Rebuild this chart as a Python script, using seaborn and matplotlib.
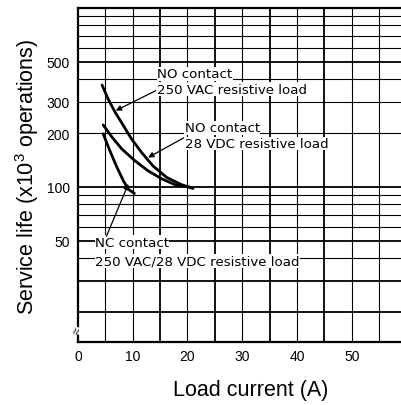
import numpy as np
import pandas as pd
import matplotlib
matplotlib.use("Agg")
import matplotlib.pyplot as plt
import seaborn as sns

# curves (load current A, life x10^3 ops)
no_ac_x = [4.4, 5.5, 6.8, 8.3, 9.8, 11.6, 13.7, 16.2, 18.9, 21.0]
no_ac_y = [371, 310, 261, 220, 185, 156, 131, 113, 103, 98]

no_dc_x = [4.6, 6.2, 8.0, 10.4, 12.8, 15.3, 17.7, 20.4]
no_dc_y = [222, 190, 163, 140, 123, 111, 103, 100]

nc_x = [4.6, 5.8, 7.1, 8.3, 9.2, 10.3]
nc_y = [198, 160, 129, 108, 97, 92]

x_ticks = [0, 10, 20, 30, 40, 50]
y_ticks = [50, 100, 200, 300, 500]
x_grid = [5, 10, 15, 20, 25, 30, 35, 40, 45, 50, 55]
y_grid = [20, 30, 40, 50, 60, 70, 80, 90, 100, 200, 300, 400, 500, 600, 700, 800, 900]

df = pd.concat([
    pd.DataFrame({"x": no_ac_x, "y": no_ac_y, "curve": "no_ac"}),
    pd.DataFrame({"x": no_dc_x, "y": no_dc_y, "curve": "no_dc"}),
    pd.DataFrame({"x": nc_x, "y": nc_y, "curve": "nc"}),
])

sns.set_style("white")
plt.rcParams["font.family"] = ["Liberation Sans", "DejaVu Sans"]
plt.rcParams["mathtext.default"] = "regular"
plt.rcParams["text.color"] = "black"
plt.rcParams["xtick.color"] = "black"
plt.rcParams["ytick.color"] = "black"

fig = plt.figure(figsize=(4.01, 4.06), dpi=100)
ax = fig.add_axes([0.1945, 0.1552, 0.8055, 0.8227])
ax.set_yscale("log")
ax.set_xlim(0, 59)
ax.set_ylim(13.6, 1000)

# grid (heavier lines like the scanned chart)
heavy_x = [15, 25, 35, 45]
heavy_y = [20, 30, 50, 100, 500]
for v in x_grid:
    ax.axvline(v, color="black", lw=1.3 if v in heavy_x else 0.8, zorder=1)
for v in y_grid:
    ax.axhline(v, color="black", lw=1.3 if v in heavy_y else 0.8, zorder=1)

sns.lineplot(data=df, x="x", y="y", hue="curve", units="curve", estimator=None,
             sort=False, palette=["black"] * 3, lw=2.0, legend=False, ax=ax, zorder=3)

ax.set_xticks(x_ticks)
ax.set_xticklabels([str(t) for t in x_ticks])
ax.set_yticks(y_ticks)
ax.set_yticklabels([str(t) for t in y_ticks])
ax.yaxis.set_minor_locator(matplotlib.ticker.NullLocator())
ax.tick_params(axis="x", length=0, pad=5, labelsize=10)
ax.tick_params(axis="y", length=5, width=1, pad=1, labelsize=10)
ax.set_xlabel("")
ax.set_ylabel("")

for side in ["left", "bottom", "top"]:
    ax.spines[side].set_color("black")
    ax.spines[side].set_linewidth(1.6)
ax.spines["right"].set_visible(False)

# labels with leader lines
tfont = dict(family="DejaVu Sans", fontsize=9.6, va="center", ha="left", zorder=4,
             color="black", bbox=dict(facecolor="white", edgecolor="none", pad=0.3))
ax.text(14.5, 428, "NO contact", **tfont)
ax.text(14.4, 351, "250 VAC resistive load", **tfont)
ax.text(19.5, 214, "NO contact", **tfont)
ax.text(19.5, 175, "28 VDC resistive load", **tfont)
ax.text(3.1, 49.1, "NC contact", **tfont)
ax.text(3.1, 38.7, "250 VAC/28 VDC resistive load", **tfont)

arrow = dict(arrowstyle="-|>", color="black", lw=0.9, mutation_scale=8, shrinkA=0, shrinkB=0)
ax.annotate("", xy=(6.9, 267), xytext=(14.2, 345), arrowprops=arrow, zorder=5)
ax.annotate("", xy=(12.8, 146), xytext=(19.3, 188), arrowprops=arrow, zorder=5)
ax.annotate("", xy=(9.2, 104), xytext=(5.2, 53), arrowprops=arrow, zorder=5)

# axis break mark
ax.text(0, 15.7, "\u2248", fontsize=9, ha="center", va="center", rotation=70,
        clip_on=False, zorder=6, bbox=dict(facecolor="white", edgecolor="none", pad=0))

fig.text(27 / 401, 1 - 177 / 406, "Service life (x10$^{3}$ operations)",
         rotation=90, ha="center", va="center", fontsize=15.5)
fig.text(251 / 401, 1 - 391 / 406, "Load current (A)", ha="center", va="center", fontsize=15.5)

fig.savefig("out.png", dpi=100)
